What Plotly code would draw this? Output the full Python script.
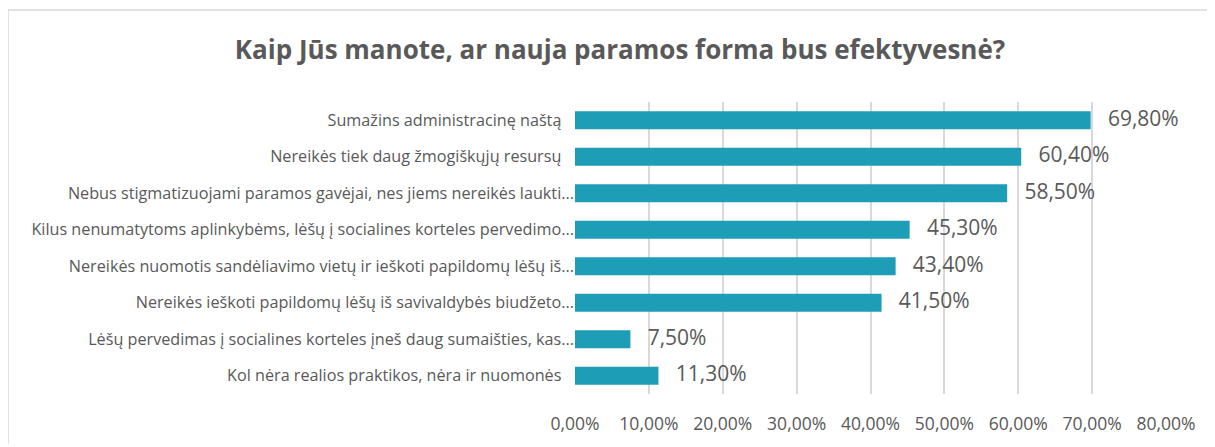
import plotly.graph_objects as go

# survey answers, top to bottom as in the chart
answers = [
    "Sumažins administracinę naštą\u00a0\u00a0\u00a0",
    "Nereikės tiek daug žmogiškųjų resursų\u00a0\u00a0\u00a0",
    "Nebus stigmatizuojami paramos gavėjai, nes jiems nereikės laukti...",
    "Kilus nenumatytoms aplinkybėms, lėšų į socialines korteles pervedimo...",
    "Nereikės nuomotis sandėliavimo vietų ir ieškoti papildomų lėšų iš...",
    "Nereikės ieškoti papildomų lėšų iš savivaldybės biudžeto...",
    "Lėšų pervedimas į socialines korteles įneš daug sumaišties, kas...",
    "Kol nėra realios praktikos, nėra ir nuomonės\u00a0\u00a0\u00a0",
]
shares = [69.8, 60.4, 58.5, 45.3, 43.4, 41.5, 7.5, 11.3]
tick_vals = [0, 10, 20, 30, 40, 50, 60, 70, 80]

labels = [f"{v:.2f}%".replace(".", ",") for v in shares]
tick_text = [f"{v:.2f}%".replace(".", ",") for v in tick_vals]

grey = "#595959"
font = "Open Sans"

# page body adds 8px margin, so the figure is sized to fill the rest
W, H = 1207, 439
L, R, T, B = 567, 49, 94, 50
pw, ph = W - L - R, H - T - B

fig = go.Figure()
fig.add_trace(go.Bar(
    x=shares, y=answers, orientation="h",
    marker=dict(color="#1e9db7", line=dict(width=0)),
    hoverinfo="x+y",
))
# value labels next to the bar ends
fig.add_trace(go.Scatter(
    x=shares, y=answers, mode="markers+text",
    marker=dict(size=26, opacity=0),
    text=labels, textposition="middle right",
    textfont=dict(size=21, color=grey, family=font),
    cliponaxis=False, hoverinfo="skip",
))

fig.update_layout(
    width=W, height=H,
    margin=dict(l=L, r=R, t=T, b=B),
    paper_bgcolor="white", plot_bgcolor="white",
    font=dict(family=font, color=grey),
    showlegend=False,
    bargap=0.51,
    title=dict(text="<b>Kaip Jūs manote, ar nauja paramos forma bus efektyvesnė?</b>",
               x=612 / W, xanchor="center", y=1 - 42 / H, yanchor="middle",
               font=dict(size=26, color=grey, family=font)),
)
fig.update_xaxes(range=[0, 80], tickvals=tick_vals, ticktext=tick_text,
                 showgrid=True, gridcolor="#d9d9d9", gridwidth=1.5,
                 zeroline=False, showline=False,
                 tickfont=dict(size=17.5, color=grey), ticklabelstandoff=17)
fig.update_yaxes(range=[len(answers) - 0.5, -0.5], showgrid=False, showline=False,
                 tickfont=dict(size=16.2, color=grey), ticks="")

# thin frame lines like the exported chart
fig.add_shape(type="line", xref="paper", yref="paper",
              x0=-L / pw, x1=1 + R / pw, y0=1 + (T - 1) / ph, y1=1 + (T - 1) / ph,
              line=dict(color="#d9d9d9", width=1.5))
fig.add_shape(type="line", xref="paper", yref="paper",
              x0=-L / pw, x1=-L / pw, y0=-B / ph, y1=1 + (T - 1) / ph,
              line=dict(color="#d9d9d9", width=1.5))

fig.write_html("out.html")
